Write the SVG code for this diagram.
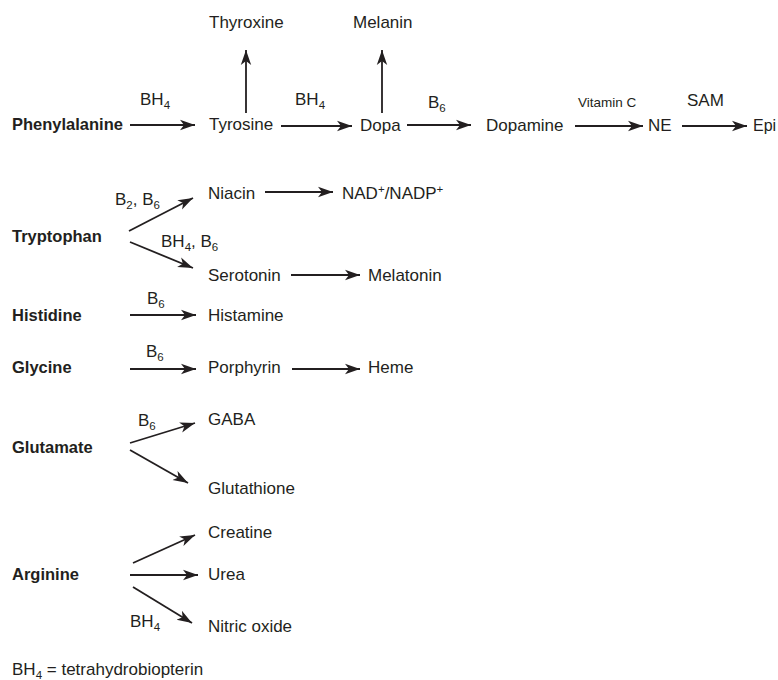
<svg xmlns="http://www.w3.org/2000/svg" width="778" height="680" viewBox="0 0 778 680">
<style>
text{font-family:"Liberation Sans",Arial,sans-serif;font-size:17px;fill:#231f20}
.b{font-weight:bold;font-size:16.5px}
.sm{font-size:13.5px}
.sub{font-size:11.5px}
.c line{stroke:#231f20;stroke-width:1.8;fill:none;marker-end:url(#ah)}
</style>
<defs>
<marker id="ah" markerUnits="userSpaceOnUse" markerWidth="16" markerHeight="12" refX="15" refY="6" orient="auto">
<path d="M0,0.8 L15,6 L0,11.2 L4,6 Z" fill="#231f20"/>
</marker>
</defs>
<rect width="778" height="680" fill="#fff"/>
<g id="connectors" class="c">
<line x1="130" y1="125" x2="195" y2="125"/>
<line x1="246" y1="113" x2="246" y2="50"/>
<line x1="281" y1="126" x2="352" y2="126"/>
<line x1="382" y1="113" x2="382" y2="50"/>
<line x1="407" y1="125" x2="471" y2="125"/>
<line x1="575" y1="126" x2="643" y2="126"/>
<line x1="682" y1="126" x2="747" y2="126"/>
<line x1="129" y1="231" x2="193" y2="198"/>
<line x1="265" y1="192" x2="333" y2="192"/>
<line x1="130" y1="242" x2="193" y2="268"/>
<line x1="291" y1="275" x2="360" y2="275"/>
<line x1="130" y1="315" x2="196" y2="315"/>
<line x1="130" y1="369" x2="196" y2="369"/>
<line x1="292" y1="369" x2="360" y2="369"/>
<line x1="130" y1="443" x2="195" y2="423"/>
<line x1="130" y1="450" x2="188" y2="483"/>
<line x1="133" y1="563" x2="195" y2="535"/>
<line x1="130" y1="575" x2="198" y2="575"/>
<line x1="133" y1="587" x2="192" y2="623"/>
</g>
<g id="labels">
<text x="140" y="105">BH<tspan class="sub" dy="4">4</tspan></text>
<text x="295" y="105">BH<tspan class="sub" dy="4">4</tspan></text>
<text x="428" y="108">B<tspan class="sub" dy="4">6</tspan></text>
<text x="578" y="107" class="sm">Vitamin C</text>
<text x="687" y="106">SAM</text>
<text x="115" y="205">B<tspan class="sub" dy="4">2</tspan><tspan dy="-4">, B</tspan><tspan class="sub" dy="4">6</tspan></text>
<text x="161" y="247">BH<tspan class="sub" dy="4">4</tspan><tspan dy="-4">, B</tspan><tspan class="sub" dy="4">6</tspan></text>
<text x="147" y="304">B<tspan class="sub" dy="4">6</tspan></text>
<text x="146" y="357">B<tspan class="sub" dy="4">6</tspan></text>
<text x="138" y="426">B<tspan class="sub" dy="4">6</tspan></text>
<text x="130" y="627">BH<tspan class="sub" dy="4">4</tspan></text>
</g>
<g id="phenylalanine"><text x="12" y="130" class="b">Phenylalanine</text></g>
<g id="tyrosine"><text x="209" y="130">Tyrosine</text></g>
<g id="thyroxine"><text x="209" y="28">Thyroxine</text></g>
<g id="dopa"><text x="360" y="131">Dopa</text></g>
<g id="melanin"><text x="353" y="28">Melanin</text></g>
<g id="dopamine"><text x="486" y="131">Dopamine</text></g>
<g id="ne"><text x="648" y="131">NE</text></g>
<g id="epi"><text x="753" y="131" style="font-size:16px">Epi</text></g>
<g id="tryptophan"><text x="12" y="242" class="b">Tryptophan</text></g>
<g id="niacin"><text x="208" y="199">Niacin</text></g>
<g id="nad"><text x="342" y="199">NAD<tspan class="sub" dy="-6">+</tspan><tspan dy="6">/NADP</tspan><tspan class="sub" dy="-6">+</tspan></text></g>
<g id="serotonin"><text x="208" y="281">Serotonin</text></g>
<g id="melatonin"><text x="368" y="281">Melatonin</text></g>
<g id="histidine"><text x="12" y="321" class="b">Histidine</text></g>
<g id="histamine"><text x="208" y="321">Histamine</text></g>
<g id="glycine"><text x="12" y="373" class="b">Glycine</text></g>
<g id="porphyrin"><text x="208" y="373">Porphyrin</text></g>
<g id="heme"><text x="368" y="373">Heme</text></g>
<g id="glutamate"><text x="12" y="453" class="b">Glutamate</text></g>
<g id="gaba"><text x="208" y="425">GABA</text></g>
<g id="glutathione"><text x="208" y="494">Glutathione</text></g>
<g id="arginine"><text x="12" y="580" class="b">Arginine</text></g>
<g id="creatine"><text x="208" y="538">Creatine</text></g>
<g id="urea"><text x="208" y="580">Urea</text></g>
<g id="nitric-oxide"><text x="208" y="632">Nitric oxide</text></g>
<g id="legend"><text x="12" y="675">BH<tspan class="sub" dy="4">4</tspan><tspan dy="-4"> = tetrahydrobiopterin</tspan></text></g>
</svg>
